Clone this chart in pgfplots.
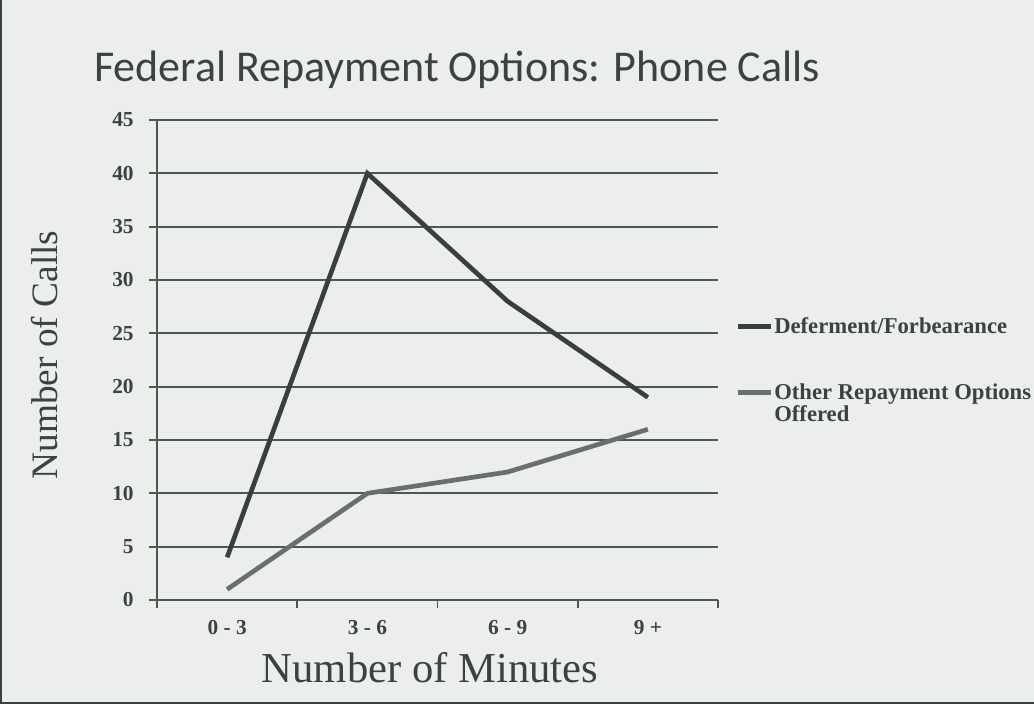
\documentclass[border=0pt]{standalone}
\usepackage{pgfplots}
\pgfplotsset{compat=1.18}
\usepackage{fontspec}
\setmainfont{Liberation Serif}
\newfontfamily\titlefont{Carlito}
\definecolor{bgc}{HTML}{ECEEEC}
\definecolor{inkc}{HTML}{3C423D}
\definecolor{darkc}{HTML}{3A3F3B}
\definecolor{greyc}{HTML}{6A6F6B}
\definecolor{gridc}{HTML}{4F564F}
\begin{document}
\begin{tikzpicture}[x=1pt,y=1pt]
\fill[bgc] (0,0) rectangle (775.5,528);
\draw[inkc,line width=1.5pt] (0.75,0.75) -- (0.75,528) (0,0.75) -- (775.5,0.75);
\begin{axis}[
  at={(117.75pt,78pt)}, anchor=south west,
  scale only axis, width=420.75pt, height=360pt,
  xmin=-0.5, xmax=3.5, ymin=0, ymax=45,
  axis x line*=bottom, axis y line*=left,
  axis line style={gridc, line width=1.3pt},
  xtick={-0.5,0.5,1.5,2.5,3.5},
  xticklabels={},
  extra x ticks={0,1,2,3},
  extra x tick labels={{0 - 3},{3 - 6},{6 - 9},{9 +}},
  extra x tick style={major tick length=0pt, xticklabel style={yshift=-12pt}},
  major tick length=6pt,
  tick style={gridc, line width=1.3pt},
  tick align=outside,
  ytick={0,5,...,45},
  ymajorgrids, xmajorgrids=false,
  grid style={gridc, line width=1.3pt},
  /pgf/number format/assume math mode=true,
  ticklabel style={font=\fontsize{16}{18}\selectfont\bfseries, color=inkc},
  yticklabel style={xshift=-8pt},
  legend style={at={(1.0,0.6)}, anchor=north west, xshift=10pt, draw=none, fill=none,
    font=\fontsize{17}{20}\selectfont\bfseries, text=inkc,
    nodes={inner xsep=0.5pt}, row sep=32pt},
  legend cell align=left,
  legend image code/.code={\draw[#1] (0pt,0pt) -- (25pt,0pt);},
  clip=false,
]
\addplot[darkc, line width=3.5pt] coordinates {(0,4) (1,40) (2,28) (3,19)};
\addlegendentry{Deferment/Forbearance}
\addplot[greyc, line width=3.5pt] coordinates {(0,1) (1,10) (2,12) (3,16)};
\addlegendentry{\renewcommand\arraystretch{0.75}\begin{tabular}[t]{@{}l@{}}Other Repayment Options\\Offered\end{tabular}}
\end{axis}
\node[font=\titlefont\fontsize{33}{38}\selectfont, text=inkc] at (342.75,476) {Federal Repayment Options: Phone Calls};
\node[font=\fontsize{28}{32}\selectfont, text=inkc, rotate=90] at (33.75,261.75) {Number of Calls};
\node[font=\fontsize{32}{36}\selectfont, text=inkc] at (322.5,27) {Number of Minutes};
\pgfresetboundingbox
\useasboundingbox (0,0) rectangle (775.5,528);
\end{tikzpicture}
\end{document}
